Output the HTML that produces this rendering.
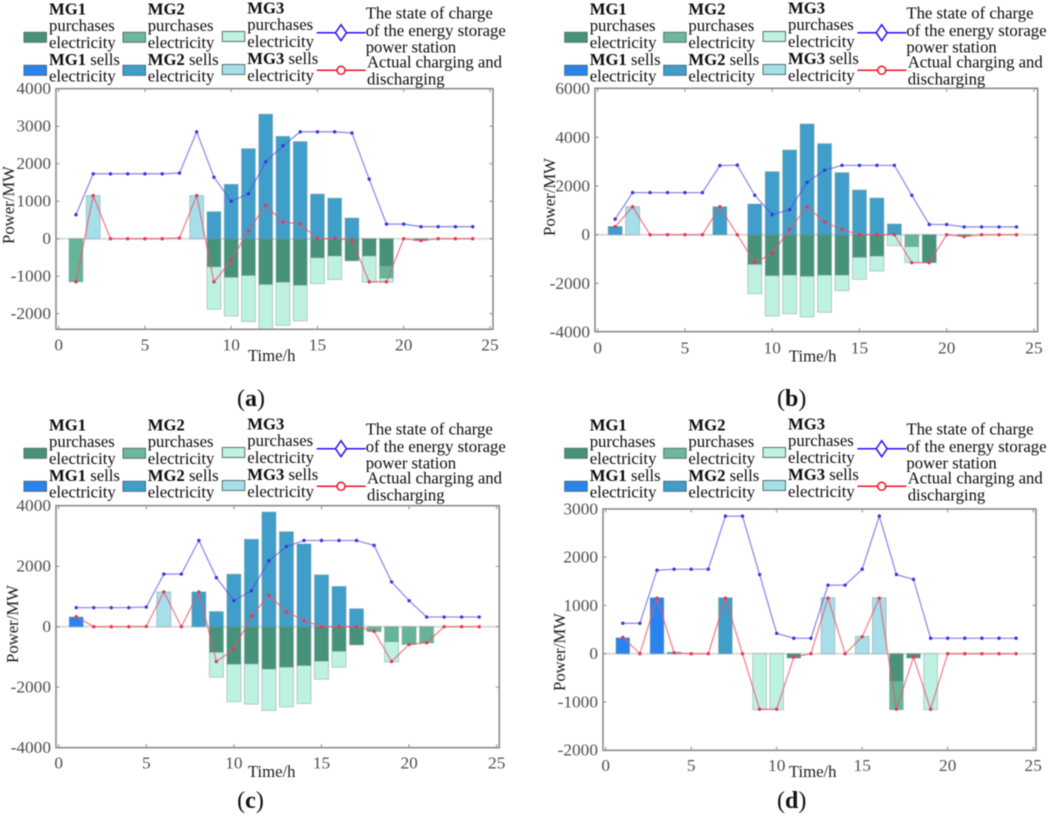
<!DOCTYPE html>
<html lang="en">
<head>
<meta charset="utf-8">
<title>Microgrid electricity trading and energy storage power</title>
<style>
html,body{margin:0;padding:0;background:#fff;width:1052px;height:816px;overflow:hidden}
svg{display:block;font-family:"Liberation Serif",serif;filter:blur(.4px)}
.lg{font-size:16.7px;fill:#0c0c0c}
.b{font-weight:bold}
.tick-label{font-size:17.3px;fill:#4e4e4e}
.axis-title{font-size:16.7px;fill:#1c1c1c}
.cap{font-size:24px;fill:#111}
.cap tspan{font-weight:bold}
</style>
</head>
<body>
<svg id="figure" xmlns="http://www.w3.org/2000/svg" width="1052" height="816" viewBox="0 0 1052 816">
<g id="panel-a"></g>
<g id="panel-b"></g>
<g id="panel-c"></g>
<g id="panel-d"></g>

<g transform="translate(0,0)">
<g><rect x="24" y="32.3" width="22.5" height="10" fill="#46927a" stroke="#5f6f6a"/><text class="lg b" x="49" y="14.5">MG1</text><text class="lg" x="49" y="31">purchases</text><text class="lg" x="49" y="48">electricity</text></g>
<g><rect x="123" y="32.3" width="22.5" height="10" fill="#6cb89c" stroke="#5f6f6a"/><text class="lg b" x="147.7" y="14.5">MG2</text><text class="lg" x="147.7" y="31">purchases</text><text class="lg" x="147.7" y="48">electricity</text></g>
<g><rect x="222.3" y="31.5" width="22.5" height="10" fill="#bff2e2" stroke="#5f6f6a"/><text class="lg b" x="247.3" y="13.5">MG3</text><text class="lg" x="247.3" y="30">purchases</text><text class="lg" x="247.3" y="47">electricity</text></g>
<g><rect x="24" y="65.3" width="22.5" height="10" fill="#2a84f0" stroke="#4a6a80"/><text class="lg" x="49" y="65"><tspan class="b">MG1</tspan> sells</text><text class="lg" x="49" y="81.7">electricity</text></g>
<g><rect x="123" y="65.3" width="22.5" height="10" fill="#3f9fca" stroke="#4a6a80"/><text class="lg" x="147.7" y="65"><tspan class="b">MG2</tspan> sells</text><text class="lg" x="147.7" y="81.7">electricity</text></g>
<g><rect x="222.3" y="64.5" width="22.5" height="10" fill="#a6dfea" stroke="#5f6f6a"/><text class="lg" x="247.3" y="64"><tspan class="b">MG3</tspan> sells</text><text class="lg" x="247.3" y="81">electricity</text></g>
<g><line x1="316.7" x2="365.7" y1="32.7" y2="32.7" stroke="#2a10f0" stroke-width="1.5"/><polygon points="341,24.7 346.5,32.7 341,40.7 335.5,32.7" fill="#fff" stroke="#2a10f0" stroke-width="1.5"/><text class="lg" x="365.7" y="18.3">The state of charge</text><text class="lg" x="365.7" y="36">of the energy storage</text><text class="lg" x="365.7" y="52.7">power station</text></g>
<g><line x1="316.7" x2="365.7" y1="70.3" y2="70.3" stroke="#f0101c" stroke-width="1.5"/><circle cx="341" cy="70.3" r="4" fill="#fff" stroke="#f0101c" stroke-width="1.5"/><text class="lg" x="367" y="67.7">Actual charging and</text><text class="lg" x="367" y="84.5">discharging</text></g>
</g>

<g transform="translate(540.7,0)">
<g><rect x="24" y="32.3" width="22.5" height="10" fill="#46927a" stroke="#5f6f6a"/><text class="lg b" x="49" y="14.5">MG1</text><text class="lg" x="49" y="31">purchases</text><text class="lg" x="49" y="48">electricity</text></g>
<g><rect x="123" y="32.3" width="22.5" height="10" fill="#6cb89c" stroke="#5f6f6a"/><text class="lg b" x="147.7" y="14.5">MG2</text><text class="lg" x="147.7" y="31">purchases</text><text class="lg" x="147.7" y="48">electricity</text></g>
<g><rect x="222.3" y="31.5" width="22.5" height="10" fill="#bff2e2" stroke="#5f6f6a"/><text class="lg b" x="247.3" y="13.5">MG3</text><text class="lg" x="247.3" y="30">purchases</text><text class="lg" x="247.3" y="47">electricity</text></g>
<g><rect x="24" y="65.3" width="22.5" height="10" fill="#2a84f0" stroke="#4a6a80"/><text class="lg" x="49" y="65"><tspan class="b">MG1</tspan> sells</text><text class="lg" x="49" y="81.7">electricity</text></g>
<g><rect x="123" y="65.3" width="22.5" height="10" fill="#3f9fca" stroke="#4a6a80"/><text class="lg" x="147.7" y="65"><tspan class="b">MG2</tspan> sells</text><text class="lg" x="147.7" y="81.7">electricity</text></g>
<g><rect x="222.3" y="64.5" width="22.5" height="10" fill="#a6dfea" stroke="#5f6f6a"/><text class="lg" x="247.3" y="64"><tspan class="b">MG3</tspan> sells</text><text class="lg" x="247.3" y="81">electricity</text></g>
<g><line x1="316.7" x2="365.7" y1="32.7" y2="32.7" stroke="#2a10f0" stroke-width="1.5"/><polygon points="341,24.7 346.5,32.7 341,40.7 335.5,32.7" fill="#fff" stroke="#2a10f0" stroke-width="1.5"/><text class="lg" x="365.7" y="18.3">The state of charge</text><text class="lg" x="365.7" y="36">of the energy storage</text><text class="lg" x="365.7" y="52.7">power station</text></g>
<g><line x1="316.7" x2="365.7" y1="70.3" y2="70.3" stroke="#f0101c" stroke-width="1.5"/><circle cx="341" cy="70.3" r="4" fill="#fff" stroke="#f0101c" stroke-width="1.5"/><text class="lg" x="367" y="67.7">Actual charging and</text><text class="lg" x="367" y="84.5">discharging</text></g>
</g>

<g transform="translate(0,416)">
<g><rect x="24" y="32.3" width="22.5" height="10" fill="#46927a" stroke="#5f6f6a"/><text class="lg b" x="49" y="14.5">MG1</text><text class="lg" x="49" y="31">purchases</text><text class="lg" x="49" y="48">electricity</text></g>
<g><rect x="123" y="32.3" width="22.5" height="10" fill="#6cb89c" stroke="#5f6f6a"/><text class="lg b" x="147.7" y="14.5">MG2</text><text class="lg" x="147.7" y="31">purchases</text><text class="lg" x="147.7" y="48">electricity</text></g>
<g><rect x="222.3" y="31.5" width="22.5" height="10" fill="#bff2e2" stroke="#5f6f6a"/><text class="lg b" x="247.3" y="13.5">MG3</text><text class="lg" x="247.3" y="30">purchases</text><text class="lg" x="247.3" y="47">electricity</text></g>
<g><rect x="24" y="65.3" width="22.5" height="10" fill="#2a84f0" stroke="#4a6a80"/><text class="lg" x="49" y="65"><tspan class="b">MG1</tspan> sells</text><text class="lg" x="49" y="81.7">electricity</text></g>
<g><rect x="123" y="65.3" width="22.5" height="10" fill="#3f9fca" stroke="#4a6a80"/><text class="lg" x="147.7" y="65"><tspan class="b">MG2</tspan> sells</text><text class="lg" x="147.7" y="81.7">electricity</text></g>
<g><rect x="222.3" y="64.5" width="22.5" height="10" fill="#a6dfea" stroke="#5f6f6a"/><text class="lg" x="247.3" y="64"><tspan class="b">MG3</tspan> sells</text><text class="lg" x="247.3" y="81">electricity</text></g>
<g><line x1="316.7" x2="365.7" y1="32.7" y2="32.7" stroke="#2a10f0" stroke-width="1.5"/><polygon points="341,24.7 346.5,32.7 341,40.7 335.5,32.7" fill="#fff" stroke="#2a10f0" stroke-width="1.5"/><text class="lg" x="365.7" y="18.3">The state of charge</text><text class="lg" x="365.7" y="36">of the energy storage</text><text class="lg" x="365.7" y="52.7">power station</text></g>
<g><line x1="316.7" x2="365.7" y1="70.3" y2="70.3" stroke="#f0101c" stroke-width="1.5"/><circle cx="341" cy="70.3" r="4" fill="#fff" stroke="#f0101c" stroke-width="1.5"/><text class="lg" x="367" y="67.7">Actual charging and</text><text class="lg" x="367" y="84.5">discharging</text></g>
</g>

<g transform="translate(540.7,416)">
<g><rect x="24" y="32.3" width="22.5" height="10" fill="#46927a" stroke="#5f6f6a"/><text class="lg b" x="49" y="14.5">MG1</text><text class="lg" x="49" y="31">purchases</text><text class="lg" x="49" y="48">electricity</text></g>
<g><rect x="123" y="32.3" width="22.5" height="10" fill="#6cb89c" stroke="#5f6f6a"/><text class="lg b" x="147.7" y="14.5">MG2</text><text class="lg" x="147.7" y="31">purchases</text><text class="lg" x="147.7" y="48">electricity</text></g>
<g><rect x="222.3" y="31.5" width="22.5" height="10" fill="#bff2e2" stroke="#5f6f6a"/><text class="lg b" x="247.3" y="13.5">MG3</text><text class="lg" x="247.3" y="30">purchases</text><text class="lg" x="247.3" y="47">electricity</text></g>
<g><rect x="24" y="65.3" width="22.5" height="10" fill="#2a84f0" stroke="#4a6a80"/><text class="lg" x="49" y="65"><tspan class="b">MG1</tspan> sells</text><text class="lg" x="49" y="81.7">electricity</text></g>
<g><rect x="123" y="65.3" width="22.5" height="10" fill="#3f9fca" stroke="#4a6a80"/><text class="lg" x="147.7" y="65"><tspan class="b">MG2</tspan> sells</text><text class="lg" x="147.7" y="81.7">electricity</text></g>
<g><rect x="222.3" y="64.5" width="22.5" height="10" fill="#a6dfea" stroke="#5f6f6a"/><text class="lg" x="247.3" y="64"><tspan class="b">MG3</tspan> sells</text><text class="lg" x="247.3" y="81">electricity</text></g>
<g><line x1="316.7" x2="365.7" y1="32.7" y2="32.7" stroke="#2a10f0" stroke-width="1.5"/><polygon points="341,24.7 346.5,32.7 341,40.7 335.5,32.7" fill="#fff" stroke="#2a10f0" stroke-width="1.5"/><text class="lg" x="365.7" y="18.3">The state of charge</text><text class="lg" x="365.7" y="36">of the energy storage</text><text class="lg" x="365.7" y="52.7">power station</text></g>
<g><line x1="316.7" x2="365.7" y1="70.3" y2="70.3" stroke="#f0101c" stroke-width="1.5"/><circle cx="341" cy="70.3" r="4" fill="#fff" stroke="#f0101c" stroke-width="1.5"/><text class="lg" x="367" y="67.7">Actual charging and</text><text class="lg" x="367" y="84.5">discharging</text></g>
</g>

<text class="axis-title" x="271.7" y="361" text-anchor="middle">Time/h</text>
<text class="axis-title" x="812.7" y="361.5" text-anchor="middle">Time/h</text>
<text class="axis-title" x="271.7" y="777" text-anchor="middle">Time/h</text>
<text class="axis-title" x="812.7" y="777" text-anchor="middle">Time/h</text>
<text class="axis-title" text-anchor="middle" transform="translate(14,205) rotate(-90)">Power/MW</text>
<text class="axis-title" text-anchor="middle" transform="translate(555,197) rotate(-90)">Power/MW</text>
<text class="axis-title" text-anchor="middle" transform="translate(18,624) rotate(-90)">Power/MW</text>
<text class="axis-title" text-anchor="middle" transform="translate(565,652) rotate(-90)">Power/MW</text>
<text class="cap" x="251" y="406" text-anchor="middle">(<tspan>a</tspan>)</text>
<text class="cap" x="791.7" y="406" text-anchor="middle">(<tspan>b</tspan>)</text>
<text class="cap" x="250.5" y="808" text-anchor="middle">(<tspan>c</tspan>)</text>
<text class="cap" x="791.7" y="808" text-anchor="middle">(<tspan>d</tspan>)</text>
</svg>

<script>
const hours = [1,2,3,4,5,6,7,8,9,10,11,12,13,14,15,16,17,18,19,20,21,22,23,24];
const xTickLabels = [0,5,10,15,20,25];

const aYTickLabels = [-2000,-1000,0,1000,2000,3000,4000];
const aMg1Buy  = [0,0,0,0,0,0,0,0,-750,-1030,-980,-1220,-1160,-1240,-510,-460,-590,-460,-730,0,-50,0,0,0];
const aMg2Buy  = [-1150,0,0,0,0,0,0,0,0,0,0,0,0,0,0,0,0,0,-320,0,0,0,0,0];
const aMg3Buy  = [0,0,0,0,0,0,0,0,-1130,-1030,-1230,-1230,-1150,-950,-690,-630,0,-700,-110,0,0,0,0,0];
const aMg1Sell = [0,0,0,0,0,0,0,0,0,0,0,0,0,0,0,0,0,0,0,0,0,0,0,0];
const aMg2Sell = [0,0,0,0,0,0,0,0,720,1450,2400,3320,2730,2590,1190,1080,550,0,0,0,0,0,0,0];
const aMg3Sell = [0,1150,0,0,0,0,0,1150,0,0,0,0,0,0,0,0,0,0,0,0,0,0,0,0];
const aCharge  = [640,1730,1730,1730,1730,1730,1750,2850,1640,1000,1200,2050,2480,2850,2850,2850,2820,1590,390,390,320,320,320,320];
const aActual  = [-1150,1150,0,0,0,0,20,1150,-1150,-580,210,890,440,400,0,0,-30,-1150,-1150,0,-50,0,0,0];

const bYTickLabels = [-4000,-2000,0,2000,4000,6000];
const bMg1Buy  = [0,0,0,0,0,0,0,0,-1220,-1685,-1660,-1710,-1660,-1660,-930,-880,0,0,-1150,0,-60,0,0,0];
const bMg2Buy  = [0,0,0,0,0,0,0,0,0,0,0,0,0,0,0,0,0,-490,0,0,0,0,0,0];
const bMg3Buy  = [0,0,0,0,0,0,0,0,-1205,-1655,-1590,-1670,-1530,-640,-905,-610,-450,-660,0,0,0,0,0,0];
const bMg1Sell = [0,0,0,0,0,0,0,0,0,0,0,0,0,0,0,0,0,0,0,0,0,0,0,0];
const bMg2Sell = [340,0,0,0,0,0,1150,0,1260,2590,3480,4550,3740,2550,1835,1507,440,0,0,0,0,0,0,0];
const bMg3Sell = [0,1150,0,0,0,0,0,0,0,0,0,0,0,0,0,0,0,0,0,0,0,0,0,0];
const bCharge  = [640,1730,1730,1730,1730,1730,2840,2860,1620,830,1030,2150,2650,2850,2850,2850,2850,1620,420,420,320,320,320,320];
const bActual  = [330,1150,0,0,0,0,1150,0,-1150,-770,220,1150,520,210,0,0,0,-1150,-1150,0,-80,0,0,0];

const cYTickLabels = [-4000,-2000,0,2000,4000];
const cMg1Buy  = [0,0,0,0,0,0,0,0,-846,-1240,-1230,-1400,-1340,-1285,-1140,-813,-600,0,0,0,0,0,0,0];
const cMg2Buy  = [0,0,0,0,0,0,0,0,0,0,0,0,0,0,0,0,0,-165,-495,-590,-540,0,0,0];
const cMg3Buy  = [0,0,0,0,0,0,0,0,-824,-1240,-1330,-1370,-1310,-1255,-596,-527,0,0,-670,0,0,0,0,0];
const cMg1Sell = [320,0,0,0,0,0,0,0,0,0,0,0,0,0,0,0,0,0,0,0,0,0,0,0];
const cMg2Sell = [0,0,0,0,0,0,0,1150,500,1736,2890,3790,3140,2736,1714,1330,593,0,0,0,0,0,0,0];
const cMg3Sell = [0,0,0,0,0,1150,0,0,0,0,0,0,0,0,0,0,0,0,0,0,0,0,0,0];
const cCharge  = [630,630,630,630,650,1740,1740,2850,1620,860,1190,2180,2650,2850,2850,2850,2850,2690,1480,860,320,320,320,320];
const cActual  = [330,0,0,0,10,1150,0,1150,-1150,-740,350,1040,490,210,0,0,0,-150,-1150,-590,-530,0,0,0];

const dYTickLabels = [-2000,-1000,0,1000,2000,3000];
const dMg1Buy  = [0,0,0,0,0,0,0,0,0,0,-90,0,0,0,0,0,-570,-90,0,0,0,0,0,0];
const dMg2Buy  = [0,0,0,0,0,0,0,0,0,0,0,0,0,0,0,0,-590,0,0,0,0,0,0,0];
const dMg3Buy  = [0,0,0,0,0,0,0,0,-1160,-1160,0,0,0,0,0,0,0,0,-1160,0,0,0,0,0];
const dMg1Sell = [330,0,1160,0,0,0,0,0,0,0,0,0,0,0,0,0,0,0,0,0,0,0,0,0];
const dMg2Sell = [0,0,0,30,0,0,1160,0,0,0,0,0,0,0,0,0,0,0,0,0,0,0,0,0];
const dMg3Sell = [0,0,0,0,0,0,0,0,0,0,0,0,1160,0,360,1160,0,0,0,0,0,0,0,0];
const dCharge  = [630,630,1730,1750,1750,1750,2850,2850,1640,420,320,320,1420,1420,1750,2850,1640,1540,320,320,320,320,320,320];
const dActual  = [340,0,1150,20,0,0,1150,0,-1150,-1150,-70,0,1150,0,350,1150,-1150,-70,-1150,0,0,0,0,0];

const NS = 'http://www.w3.org/2000/svg';
function make(tag, attrs, parent){
  const node = document.createElementNS(NS, tag);
  for (const k in attrs) node.setAttribute(k, attrs[k]);
  parent.appendChild(node);
  return node;
}

function labelWidth(v){
  const s = String(v);
  const digits = s.replace('-', '').length;
  return digits * 8.65 + (v < 0 ? 5.76 : 0);
}

function drawStack(group, series, fill, base, xScale, yScale, barWidth, clip){
  series.forEach(function(value, i){
    if (!value) return;
    const start = base[i];
    const end = start + value;
    const x = xScale(hours[i]) - barWidth / 2;
    const top = Math.min(yScale(start), yScale(end));
    const h = Math.abs(yScale(end) - yScale(start));
    const bar = make('rect', {x: x, y: top, width: barWidth, height: h, fill: fill, stroke: 'rgba(120,140,140,.45)', 'stroke-width': 0.9, 'clip-path': clip}, group);
    
    
    base[i] = end;
  });
}

function drawLine(group, series, lineColor, dotColor, xScale, yScale){
  const pts = series.map(function(v, i){ return xScale(hours[i]) + ',' + yScale(v); }).join(' ');
  const line = make('polyline', {points: pts, fill: 'none', stroke: lineColor, 'stroke-width': 1.3}, group);
  
  
  series.forEach(function(v, i){
    const dot = make('circle', {cx: xScale(hours[i]), cy: yScale(v), r: 1.7, fill: dotColor}, group);
    
    
  });
}

function drawPanel(id, box, x0, xPerHour, y0, yPerUnit, xLabelY, yLabels, s){
  const g = document.getElementById(id);
  const xScale = function(v){ return x0 + v * xPerHour; };
  const yScale = function(v){ return y0 - v * yPerUnit; };
  const clipId = 'clip-' + id;
  const defs = make('defs', {}, g);
  const cp = make('clipPath', {id: clipId}, defs);
  make('rect', {x: box.l, y: box.t, width: box.r - box.l, height: box.b - box.t}, cp);

  const zero = make('line', {x1: box.l, x2: box.r, y1: yScale(0), y2: yScale(0), stroke: '#dcdcdc', 'stroke-width': 2}, g);
  
  

  const barWidth = 0.8 * xPerHour;
  const clip = 'url(#' + clipId + ')';
  const negBase = hours.map(function(){ return 0; });
  const posBase = hours.map(function(){ return 0; });
  drawStack(g, s.mg1Buy, '#46927a', negBase, xScale, yScale, barWidth, clip);
  drawStack(g, s.mg2Buy, '#66b598', negBase, xScale, yScale, barWidth, clip);
  drawStack(g, s.mg3Buy, '#bdf2e2', negBase, xScale, yScale, barWidth, clip);
  drawStack(g, s.mg1Sell, '#2a84f0', posBase, xScale, yScale, barWidth, clip);
  drawStack(g, s.mg2Sell, '#3f9fca', posBase, xScale, yScale, barWidth, clip);
  drawStack(g, s.mg3Sell, '#a6dfea', posBase, xScale, yScale, barWidth, clip);

  const frame = make('rect', {x: box.l, y: box.t, width: box.r - box.l, height: box.b - box.t, fill: 'none', stroke: '#8c8c8c', 'stroke-width': 1.6}, g);
  
  

  xTickLabels.forEach(function(v){
    const px = xScale(v);
    make('line', {x1: px, x2: px, y1: box.b, y2: box.b - 3.5, stroke: '#8c8c8c', 'stroke-width': 1}, g);
    make('line', {x1: px, x2: px, y1: box.t, y2: box.t + 3.5, stroke: '#8c8c8c', 'stroke-width': 1}, g);
    const label = make('text', {x: px, y: xLabelY, 'text-anchor': 'middle', class: 'tick-label', 'font-size': '17.3', textLength: labelWidth(v), lengthAdjust: 'spacingAndGlyphs'}, g);
    label.textContent = v;
    
    
  });
  yLabels.forEach(function(v){
    const py = yScale(v);
    make('line', {x1: box.l, x2: box.l + 3.5, y1: py, y2: py, stroke: '#8c8c8c', 'stroke-width': 1}, g);
    make('line', {x1: box.r, x2: box.r - 3.5, y1: py, y2: py, stroke: '#8c8c8c', 'stroke-width': 1}, g);
    const label = make('text', {x: box.l - 5, y: py + 5.5, 'text-anchor': 'end', class: 'tick-label', 'font-size': '17.3', textLength: labelWidth(v), lengthAdjust: 'spacingAndGlyphs'}, g);
    label.textContent = v;
    
    
  });

  drawLine(g, s.charge, 'rgba(88,78,222,.65)', '#3a36d8', xScale, yScale);
  drawLine(g, s.actual, 'rgba(236,84,104,.72)', '#e23a58', xScale, yScale);
}

drawPanel('panel-a', {l:56, r:493, t:88.7, b:329.3}, 58.7, 17.25, 238.7, 0.0375, 350.7, aYTickLabels,
  {mg1Buy:aMg1Buy, mg2Buy:aMg2Buy, mg3Buy:aMg3Buy, mg1Sell:aMg1Sell, mg2Sell:aMg2Sell, mg3Sell:aMg3Sell, charge:aCharge, actual:aActual});
drawPanel('panel-b', {l:595, r:1037.7, t:88.3, b:331.7}, 597.7, 17.45, 234.7, 0.02433, 353.3, bYTickLabels,
  {mg1Buy:bMg1Buy, mg2Buy:bMg2Buy, mg3Buy:bMg3Buy, mg1Sell:bMg1Sell, mg2Sell:bMg2Sell, mg3Sell:bMg3Sell, charge:bCharge, actual:bActual});
drawPanel('panel-c', {l:56, r:499.3, t:505.7, b:747.7}, 58.7, 17.52, 626.7, 0.03025, 768.7, cYTickLabels,
  {mg1Buy:cMg1Buy, mg2Buy:cMg2Buy, mg3Buy:cMg3Buy, mg1Sell:cMg1Sell, mg2Sell:cMg2Sell, mg3Sell:cMg3Sell, charge:cCharge, actual:cActual});
drawPanel('panel-d', {l:603, r:1036, t:509, b:750.3}, 605.7, 17.1, 653.7, 0.04827, 771, dYTickLabels,
  {mg1Buy:dMg1Buy, mg2Buy:dMg2Buy, mg3Buy:dMg3Buy, mg1Sell:dMg1Sell, mg2Sell:dMg2Sell, mg3Sell:dMg3Sell, charge:dCharge, actual:dActual});
</script>
</body>
</html>
